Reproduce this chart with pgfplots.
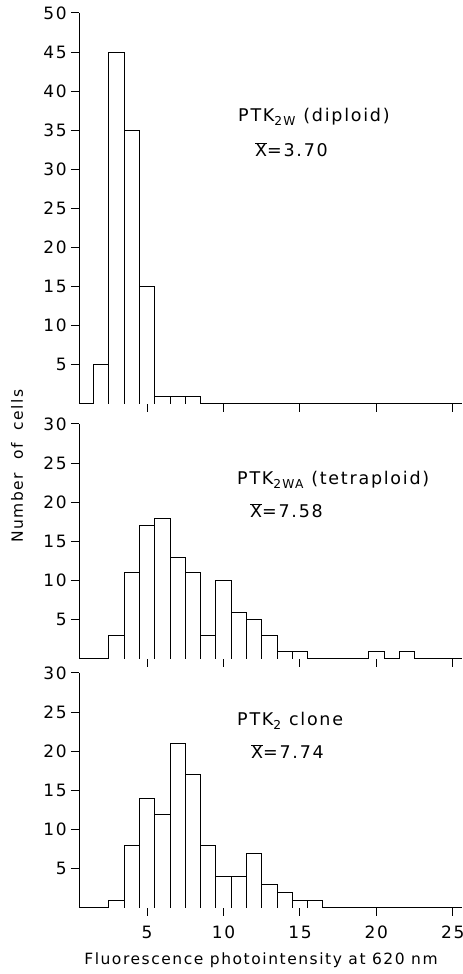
\documentclass[border=0pt]{standalone}
\usepackage{pgfplots}
\pgfplotsset{compat=1.18}
\usepackage{fontspec}
\setmainfont{DejaVu Sans}[LetterSpace=10]

% counts per unit bin, bins centred on integers
\pgfplotstableread{
x n
2 5
3 45
4 35
5 15
6 1
7 1
8 1
}\diploid
\pgfplotstableread{
x n
3 3
4 11
5 17
6 18
7 13
8 11
9 3
10 10
11 6
12 5
13 3
14 1
15 1
20 1
22 1
}\tetraploid
\pgfplotstableread{
x n
3 1
4 8
5 14
6 12
7 21
8 17
9 8
10 4
11 4
12 7
13 3
14 2
15 1
16 1
}\clone

\pgfplotsset{
  hist/.style={
    scale only axis, width=383bp,
    xmin=0.55, xmax=25.6, ymin=0,
    axis x line=bottom, axis y line=left,
    axis line style={-, line width=1bp},
    tick align=outside, major tick length=8bp,
    every tick/.style={line width=1bp, black},
    xtick={5,10,15,20,25},
    xticklabels={},
    /pgf/number format/assume math mode=true,
    tick label style={font=\fontsize{17bp}{19bp}\selectfont},
    yticklabel style={xshift=1bp},
    xticklabel style={yshift=-5bp},
    anchor=south west,
  },
  bars/.style={ybar, bar width=1, fill=white, draw=black, line width=0.9bp},
}

\begin{document}
\fontsize{15.5bp}{18bp}\selectfont
\begin{tikzpicture}[x=1bp, y=1bp]
% top: diploid
\begin{axis}[hist, at={(79bp,570bp)}, height=391bp, ymax=50,
  ytick={5,10,...,50}]
  \addplot[bars] table[x=x, y=n] {\diploid};
\end{axis}
% middle: tetraploid
\begin{axis}[hist, at={(79bp,315bp)}, height=235bp, ymax=30,
  ytick={5,10,...,30}]
  \addplot[bars] table[x=x, y=n] {\tetraploid};
\end{axis}
% bottom: clone
\begin{axis}[hist, at={(79bp,66bp)}, height=235bp, ymax=30,
  ytick={5,10,...,30}, xticklabels={5,10,15,20,25}]
  \addplot[bars] table[x=x, y=n] {\clone};
\end{axis}

\begin{scope}[every node/.style={anchor=base west, inner sep=0pt,
    font=\fontsize{17.5bp}{20bp}\selectfont}]
\node at (238,852) {PTK\textsubscript{2W} (diploid)};
\node at (255,817) {$\overline{\hbox{X}}$=3.70};
\node at (237,489) {PTK\textsubscript{2WA} (tetraploid)};
\node at (250,456) {$\overline{\hbox{X}}$=7.58};
\node at (237,248) {PTK\textsubscript{2} clone};
\node at (251,215) {$\overline{\hbox{X}}$=7.74};
\end{scope}

\node[inner sep=0pt] at (261,14) {Fluorescence photointensity at 620 nm};
\node[rotate=90, inner sep=0pt] at (17,508) {Number\hspace{13bp}of\hspace{13bp}cells};

\pgfresetboundingbox
\path[use as bounding box] (0,0) rectangle (463,974);
\end{tikzpicture}
\end{document}
